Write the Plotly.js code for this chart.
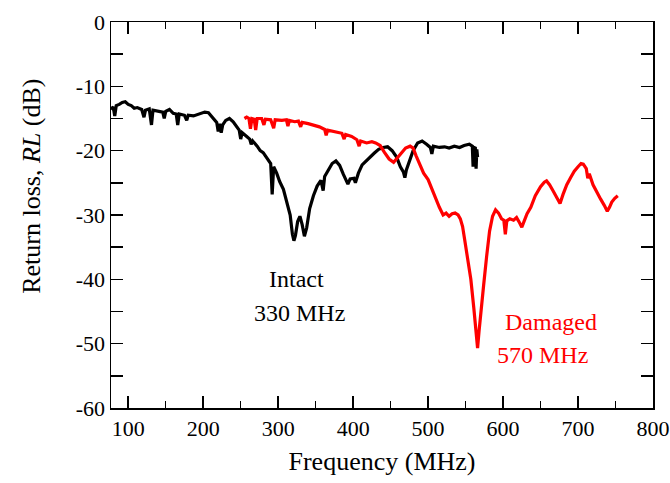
<!DOCTYPE html>
<html>
<head>
<meta charset="utf-8">
<script src="https://cdn.plot.ly/plotly-3.0.1.min.js"></script>
<style>html,body{margin:0;padding:0;background:#fff;}#chart{width:670px;height:483px;}</style>
</head>
<body>
<div id="chart"></div>
<script>
// Intact specimen (black)
const intactFreq = [77,80,82,84,88,92,96,100,104,108,112,118,121,123,128,131,133,140,146,148,150,155,160,164,166,168,175,178,180,187,195,202,207,213,218,220,222,224,226,230,235,240,245,248,250,252,258,262,264,266,272,276,280,286,290,292,294,298,302,307,312,316,319,321,323,326,329,332,335,338,342,347,352,357,360,362,367,372,377,382,387,391,393,396,401,403,407,412,417,422,428,434,440,446,452,458,463,467,469,471,475,480,486,492,498,503,505,507,515,522,528,535,542,548,555,559,560,561,563,564,565,566];
const intactRL = [-13.6,-13.2,-14.6,-13.0,-12.8,-12.5,-12.4,-12.8,-13.0,-13.4,-13.3,-13.6,-14.8,-13.7,-13.5,-16.0,-13.7,-13.8,-14.0,-15.0,-13.9,-13.6,-14.2,-14.3,-16.0,-14.3,-14.5,-15.3,-14.5,-14.6,-14.3,-14.0,-14.1,-14.9,-15.6,-17.0,-15.8,-17.2,-16.0,-15.3,-15.0,-15.5,-16.2,-16.8,-18.2,-17.2,-17.8,-18.2,-19.0,-18.5,-19.3,-20.0,-20.3,-21.3,-22.0,-26.8,-22.5,-23.5,-24.8,-26.0,-28.0,-30.0,-33.0,-34.0,-33.2,-31.0,-30.2,-31.5,-33.3,-32.0,-29.0,-27.0,-25.5,-24.6,-26.2,-24.0,-23.0,-22.0,-21.6,-22.3,-23.7,-24.7,-25.2,-24.4,-24.3,-25.0,-23.5,-22.2,-21.6,-21.0,-20.4,-19.8,-19.5,-19.4,-20.0,-21.0,-22.5,-23.3,-24.2,-23.0,-21.5,-20.0,-18.8,-18.5,-19.0,-19.5,-20.5,-19.3,-19.5,-19.4,-19.6,-19.3,-19.5,-19.2,-19.0,-19.3,-22.5,-19.5,-19.6,-22.8,-19.8,-21.0];

// Damaged specimen (red)
const damagedFreq = [255,258,261,263,265,268,270,272,278,281,283,290,294,296,305,311,313,315,322,327,330,332,340,348,355,362,364,366,375,385,388,390,398,405,408,410,418,425,430,436,442,448,454,458,464,470,476,480,484,488,494,500,505,510,515,520,524,528,532,536,540,543,546,549,553,557,561,564,566,568,571,574,578,582,586,590,594,598,601,603,605,609,614,618,622,625,628,632,637,643,650,655,658,662,667,672,676,680,685,690,695,700,704,707,711,713,715,720,725,730,735,739,742,745,749,753];
const damagedRL = [-15.0,-14.8,-15.0,-16.6,-15.0,-15.1,-16.8,-15.0,-15.0,-16.0,-15.1,-15.2,-16.5,-15.2,-15.3,-15.2,-16.2,-15.3,-15.5,-15.4,-16.3,-15.6,-15.8,-16.0,-16.3,-16.7,-17.6,-16.8,-17.0,-17.3,-18.2,-17.5,-17.8,-18.3,-19.3,-18.5,-18.8,-18.6,-18.8,-19.2,-20.3,-21.3,-21.8,-21.2,-20.3,-19.6,-19.3,-19.6,-20.8,-22.0,-23.5,-24.5,-26.0,-27.3,-28.8,-30.0,-29.7,-30.2,-29.8,-29.7,-30.0,-30.6,-31.8,-34.0,-37.0,-40.0,-44.5,-48.5,-50.7,-48.0,-44.0,-41.0,-36.5,-32.5,-30.2,-29.2,-29.7,-30.6,-30.8,-33.0,-30.9,-30.6,-30.8,-30.4,-31.2,-31.9,-31.0,-29.8,-28.8,-27.0,-25.6,-24.9,-24.7,-25.3,-26.3,-27.5,-28.2,-26.8,-25.3,-24.2,-23.2,-22.5,-22.0,-22.1,-22.8,-24.3,-23.6,-25.3,-26.5,-27.5,-28.5,-29.4,-28.8,-28.0,-27.4,-27.0];

const xTicks = [100,200,300,400,500,600,700,800];
const yTicks = [-60,-50,-40,-30,-20,-10,0];
const yTickText = ["-60","-50","-40","-30","-20","-10","0"];

const FONT = "'Liberation Serif', 'Times New Roman', Times, serif";

const traces = [
  {x: intactFreq, y: intactRL, mode: "lines", line: {color: "#000000", width: 3.2}, name: "Intact"},
  {x: damagedFreq, y: damagedRL, mode: "lines", line: {color: "#ff0000", width: 3.2}, name: "Damaged"}
];

const layout = {
  width: 670, height: 483,
  margin: {l: 111, r: 17, t: 22, b: 75},
  paper_bgcolor: "#ffffff", plot_bgcolor: "#ffffff",
  showlegend: false,
  font: {family: FONT, color: "#000000"},
  xaxis: {
    range: [77, 800], tickmode: "array", tickvals: xTicks,
    ticks: "inside", ticklen: 12, tickwidth: 1.5, tickcolor: "#000",
    minor: {dtick: 50, tick0: 0, ticks: "inside", ticklen: 7, tickwidth: 1.5, tickcolor: "#000"},
    showline: true, linewidth: 1.5, linecolor: "#000", mirror: "ticks",
    showgrid: false, zeroline: false,
    tickfont: {family: FONT, size: 22, color: "#000"},
    title: {text: "Frequency (MHz)", font: {family: FONT, size: 26, color: "#000"}, standoff: 12}
  },
  yaxis: {
    range: [-60, 0], tickmode: "array", tickvals: yTicks, ticktext: yTickText,
    ticks: "inside", ticklen: 12, tickwidth: 1.5, tickcolor: "#000",
    minor: {dtick: 5, tick0: 0, ticks: "inside", ticklen: 12, tickwidth: 1.5, tickcolor: "#000"},
    showline: true, linewidth: 1.5, linecolor: "#000", mirror: "ticks",
    showgrid: false, zeroline: false,
    tickfont: {family: FONT, size: 22, color: "#000"}
  },
  annotations: [
    {xref: "paper", yref: "paper", x: -0.148, y: 0.575, xanchor: "center", yanchor: "middle",
     textangle: -90, text: "Return loss, <i>RL</i> (dB)", showarrow: false,
     font: {family: FONT, size: 26, color: "#000"}},
    {x: 324, y: -40.0, text: "Intact", showarrow: false, font: {family: FONT, size: 24, color: "#000"}},
    {x: 328.6, y: -45.2, text: "330 MHz", showarrow: false, font: {family: FONT, size: 24, color: "#000"}},
    {x: 663.5, y: -46.7, text: "Damaged", showarrow: false, font: {family: FONT, size: 24, color: "#ff0000"}},
    {x: 653, y: -51.8, text: "570 MHz", showarrow: false, font: {family: FONT, size: 24, color: "#ff0000"}}
  ]
};

Plotly.newPlot("chart", traces, layout, {displayModeBar: false, staticPlot: true});
</script>
</body>
</html>
